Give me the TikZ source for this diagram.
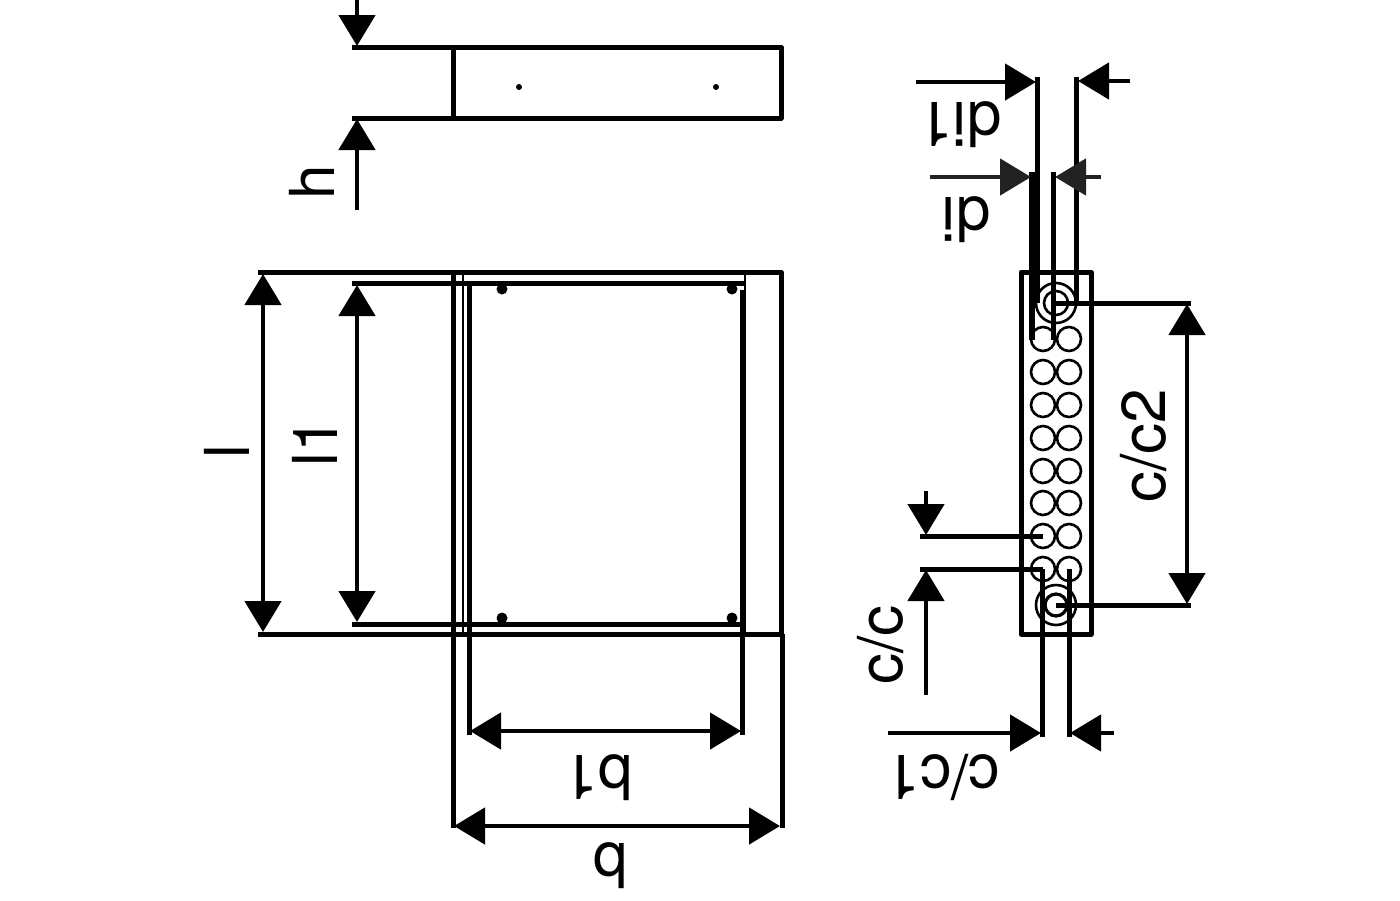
\documentclass[tikz,border=0pt]{standalone}
\usepackage{xcolor}
\usepackage{fontspec}
\setmainfont{TeX Gyre Heros}
\usetikzlibrary{arrows.meta}
\definecolor{dimgrey}{HTML}{222222}
\tikzset{
    outline/.style={line width=2.5pt, line join=round},
    thinline/.style={line width=1.2pt},
    hole/.style={line width=1.3pt},
    dimline/.style={line width=2.4pt, -{Triangle[length=15.5pt,width=18pt]}},
    dimboth/.style={line width=2.4pt, {Triangle[length=15.5pt,width=18pt]}-{Triangle[length=15.5pt,width=18pt]}},
    dimlabel/.style={font=\fontsize{31}{31}\selectfont, inner sep=0pt}
}
\begin{document}
\begin{tikzpicture}[x=0.5pt, y=-0.5pt]
    \useasboundingbox (0,0) rectangle (1400,900);
    % Top view
    \draw[outline] (352,47) -- (781,47) -- (781,118) -- (352,118);
    \draw[outline] (453,47) -- (453,118);
    \fill (519,87) circle (3);
    \fill (716,87) circle (3);
    % Height
    \draw[dimline] (357,0) -- (357,46);
    \draw[dimline] (357,210) -- (357,119);
    \node[dimlabel, rotate=90] (labelh) at (312,182) {h};
    % Plan view
    \draw[outline] (258,272) -- (781,272) -- (781,634);
    \draw[outline] (258,634) -- (781,634);
    \draw[outline] (352,283) -- (745,283);
    \draw[outline] (352,624) -- (745,624);
    \draw[outline] (453,272) -- (453,828);
    \draw[outline] (782,634) -- (782,828);
    \draw[thinline] (463,272) -- (463,634);
    \draw[thinline] (745,272) -- (745,634);
    \draw[outline] (469,283) -- (469,735);
    \draw[outline] (742,290) -- (742,735);
    % Fixing points
    \fill (502,289) circle (5.5);
    \fill (732,289) circle (5.5);
    \fill (502,618) circle (5.5);
    \fill (732,618) circle (5.5);
    % Plan dimensions
    \draw[dimboth] (263,274) -- (263,632);
    \draw[dimboth] (357,285) -- (357,622);
    \draw[dimboth] (470,731) -- (741,731);
    \draw[dimboth] (454,826) -- (780,826);
    \node[dimlabel, rotate=90] (labell) at (227,452) {l};
    \node[dimlabel, rotate=90] (labellone) at (315,442) {l1};
    \node[dimlabel, rotate=180] (labelbone) at (598,778) {b1};
    \node[dimlabel, rotate=180] (labelb) at (610,866) {b};
    % Side view
    \draw[outline] (1021,272) rectangle (1091,634);
    \foreach \rowy in {339,372,405,438,471,503,536,569} {
        \draw[hole] (1043,\rowy) circle (12);
        \draw[hole] (1069,\rowy) circle (12);
    }
    % Large holes
    \draw[hole] (1056,303) circle (20);
    \draw[hole] (1056,303) circle (12);
    \draw[hole] (1056,605) circle (20);
    \draw[line width=1.6pt] (1056,605) circle (11);
    % Diameter lines
    \draw[outline] (1037,77) -- (1037,303);
    \draw[outline] (1076,77) -- (1076,303);
    \draw[line width=3.2pt] (1032,172) -- (1032,340);
    \draw[outline] (1053,172) -- (1053,340);
    \draw[dimline] (916,82) -- (1036,82);
    \draw[dimline] (1130,81) -- (1078,81);
    \draw[dimline, dimgrey] (930,177) -- (1031,177);
    \draw[dimline, dimgrey] (1101,177) -- (1055,177);
    \node[dimlabel, rotate=180] (labeldione) at (960,125) {di1};
    \node[dimlabel, rotate=180] (labeldi) at (966,220) {di};
    % Spacing lines
    \draw[outline] (1056,303) -- (1191,303);
    \draw[outline] (1056,605) -- (1191,605);
    \draw[dimboth] (1187,304) -- (1187,604);
    \node[dimlabel, rotate=90] (labelcctwo) at (1143,446) {c/c2};
    \draw[outline] (920,536) -- (1043,536);
    \draw[outline] (920,569) -- (1043,569);
    \draw[dimline] (926,491) -- (926,535);
    \draw[dimline] (926,695) -- (926,570);
    \node[dimlabel, rotate=90] (labelcc) at (881,645) {c/c};
    \draw[outline] (1042,569) -- (1042,737);
    \draw[outline] (1069,569) -- (1069,737);
    \draw[dimline] (888,733) -- (1041,733);
    \draw[dimline] (1114,733) -- (1070,733);
    \node[dimlabel, rotate=180] (labelccone) at (943,777) {c/c1};
\end{tikzpicture}
\end{document}
